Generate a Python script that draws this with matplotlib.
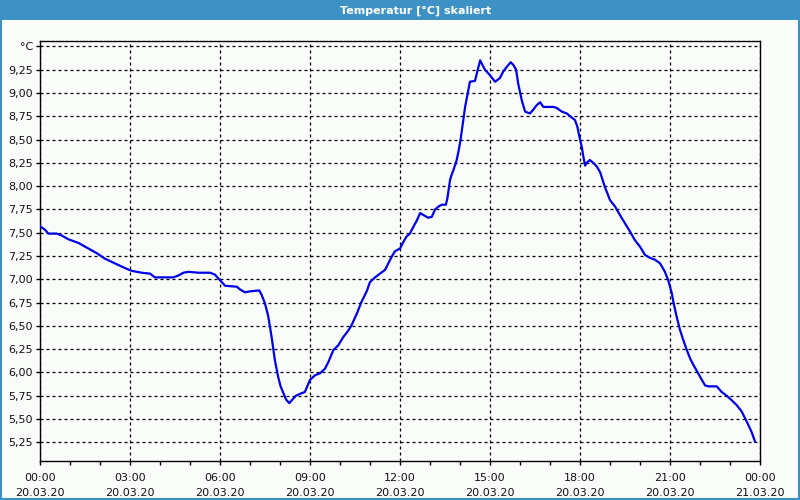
import numpy as np
from matplotlib import pyplot as plt
from matplotlib.patches import Rectangle

# time of day in hours (20.03.20), temperature in °C
hours = [0.00, 0.17, 0.28, 0.56, 0.72, 0.94, 1.28, 1.61, 1.89, 2.17,
         2.50, 2.83, 3.06, 3.39, 3.67, 3.83, 4.44, 4.61, 4.78, 4.94,
         5.28, 5.67, 5.83, 6.00, 6.17, 6.56, 6.67, 6.83, 7.00, 7.31,
         7.39, 7.50, 7.61, 7.72, 7.83, 7.94, 8.02, 8.11, 8.20, 8.31,
         8.39, 8.53, 8.67, 8.83, 8.91, 9.00, 9.17, 9.33, 9.50, 9.61,
         9.78, 9.94, 10.11, 10.28, 10.39, 10.56, 10.72, 10.89, 11.00, 11.17,
         11.33, 11.50, 11.61, 11.72, 11.83, 12.00, 12.11, 12.22, 12.33, 12.44,
         12.56, 12.67, 12.78, 12.94, 13.06, 13.17, 13.28, 13.39, 13.53, 13.58,
         13.67, 13.72, 13.80, 13.89, 13.96, 14.02, 14.17, 14.33, 14.50, 14.67,
         14.83, 15.00, 15.17, 15.33, 15.44, 15.56, 15.69, 15.78, 15.87, 15.94,
         16.06, 16.17, 16.33, 16.44, 16.56, 16.67, 16.78, 17.11, 17.22, 17.39,
         17.56, 17.67, 17.83, 17.91, 17.98, 18.06, 18.11, 18.17, 18.22, 18.33,
         18.44, 18.56, 18.67, 18.83, 19.00, 19.17, 19.33, 19.50, 19.67, 19.83,
         20.00, 20.17, 20.33, 20.50, 20.67, 20.83, 20.94, 21.06, 21.11, 21.22,
         21.33, 21.44, 21.56, 21.67, 21.78, 21.94, 22.06, 22.17, 22.28, 22.56,
         22.72, 22.89, 23.06, 23.22, 23.39, 23.56, 23.72, 23.83]
temps = [7.57, 7.53, 7.49, 7.49, 7.47, 7.43, 7.39, 7.33, 7.28, 7.22,
         7.17, 7.12, 7.09, 7.07, 7.06, 7.02, 7.02, 7.04, 7.07, 7.08,
         7.07, 7.07, 7.05, 6.99, 6.93, 6.92, 6.89, 6.86, 6.87, 6.88,
         6.83, 6.74, 6.60, 6.38, 6.13, 5.95, 5.85, 5.78, 5.71, 5.67,
         5.70, 5.75, 5.77, 5.79, 5.85, 5.92, 5.97, 5.99, 6.04, 6.11,
         6.24, 6.29, 6.38, 6.45, 6.51, 6.63, 6.76, 6.87, 6.97, 7.02,
         7.06, 7.10, 7.17, 7.24, 7.30, 7.33, 7.40, 7.46, 7.49, 7.56,
         7.63, 7.71, 7.69, 7.66, 7.67, 7.75, 7.78, 7.80, 7.80, 7.87,
         8.07, 8.12, 8.19, 8.28, 8.39, 8.50, 8.85, 9.12, 9.13, 9.35,
         9.25, 9.19, 9.12, 9.16, 9.23, 9.28, 9.33, 9.30, 9.25, 9.10,
         8.92, 8.80, 8.78, 8.82, 8.87, 8.90, 8.85, 8.85, 8.84, 8.80,
         8.78, 8.75, 8.71, 8.64, 8.53, 8.42, 8.32, 8.22, 8.25, 8.28,
         8.25, 8.21, 8.15, 7.99, 7.85, 7.78, 7.69, 7.60, 7.51, 7.42,
         7.35, 7.26, 7.23, 7.21, 7.17, 7.08, 6.99, 6.85, 6.76, 6.60,
         6.46, 6.35, 6.24, 6.15, 6.08, 5.99, 5.92, 5.86, 5.85, 5.85,
         5.79, 5.75, 5.70, 5.65, 5.58, 5.47, 5.36, 5.26]

x_ticks = [0, 3, 6, 9, 12, 15, 18, 21, 24]
x_labels = ['00:00\n20.03.20', '03:00\n20.03.20', '06:00\n20.03.20',
            '09:00\n20.03.20', '12:00\n20.03.20', '15:00\n20.03.20',
            '18:00\n20.03.20', '21:00\n20.03.20', '00:00\n21.03.20']
y_ticks = [5.25, 5.50, 5.75, 6.00, 6.25, 6.50, 6.75, 7.00, 7.25,
           7.50, 7.75, 8.00, 8.25, 8.50, 8.75, 9.00, 9.25, 9.50]
y_labels = ['5,25', '5,50', '5,75', '6,00', '6,25', '6,50', '6,75', '7,00',
            '7,25', '7,50', '7,75', '8,00', '8,25', '8,50', '8,75', '9,00',
            '9,25', '°C']

bg = '#fafcfa'
bar_blue = '#3d91c5'

fig = plt.figure(figsize=(8, 5), dpi=100, facecolor=bg)

# title bar and outer frame
fig.patches.append(Rectangle((0, 0.96), 1, 0.04, transform=fig.transFigure,
                             facecolor=bar_blue, edgecolor='none', zorder=0))
fig.patches.append(Rectangle((0.001, 0.002), 0.998, 0.996, transform=fig.transFigure,
                             facecolor='none', edgecolor=bar_blue, linewidth=1.5, zorder=1))
fig.text(0.519, 0.979, 'Temperatur [°C] skaliert', color='white', fontsize=8,
         fontweight='bold', ha='center', va='center')

ax = fig.add_axes([0.05, 0.0786, 0.90, 0.840])
ax.set_facecolor(bg)
ax.plot(hours, temps, color='#0000e6', linewidth=1.6, solid_joinstyle='round', zorder=3)

ax.set_xlim(0, 24)
ax.set_ylim(5.052, 9.561)
ax.set_xticks(x_ticks)
ax.set_xticklabels(x_labels, fontsize=8, linespacing=1.55)
ax.set_xticks(range(0, 25), minor=True)
ax.set_yticks(y_ticks)
ax.set_yticklabels(y_labels, fontsize=8)

ax.tick_params(axis='both', which='both', direction='out', length=3, width=1,
               color='black', labelcolor='#111111')
ax.tick_params(axis='x', which='major', pad=6)
ax.tick_params(axis='y', which='major', pad=2)

ax.grid(True, which='major', color='black', linestyle=(0, (2.4, 2.4)), linewidth=0.9)
for s in ax.spines.values():
    s.set_color('black')
    s.set_linewidth(1)

fig.savefig('out.png', dpi=100, facecolor=bg)
